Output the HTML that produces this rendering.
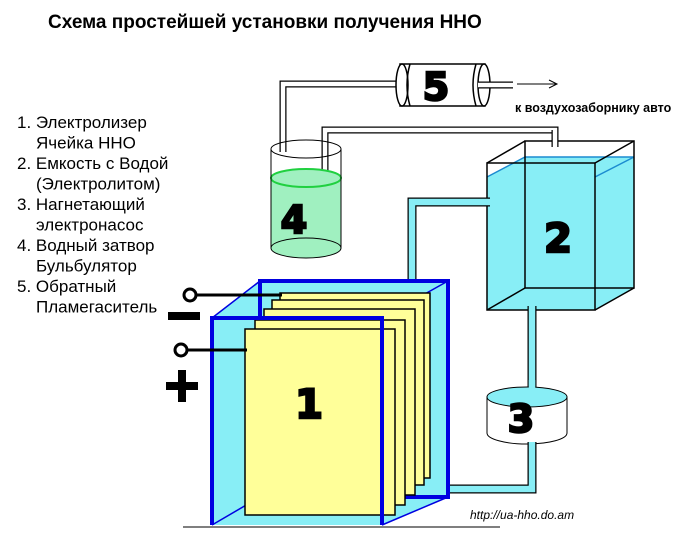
<!DOCTYPE html>
<html><head><meta charset="utf-8"><style>
html,body{margin:0;padding:0;background:#fff;}
svg{display:block;}
.n{font-family:"DejaVu Sans","Liberation Sans",sans-serif;font-weight:bold;stroke:#000;stroke-width:2.5;}
</style></head><body>
<svg width="699" height="549" viewBox="0 0 699 549" xmlns="http://www.w3.org/2000/svg">
<rect width="699" height="549" fill="#fff"/>
<text x="48" y="28" font-family="Liberation Sans, sans-serif" font-weight="bold" font-size="19" fill="#000">Схема простейшей установки получения ННО</text>
<g font-family="Liberation Sans, sans-serif" font-size="17" fill="#000">
<text x="17" y="128">1. Электролизер</text>
<text x="36" y="148.5">Ячейка ННО</text>
<text x="17" y="169">2. Емкость с Водой</text>
<text x="36" y="189.5">(Электролитом)</text>
<text x="17" y="210">3. Нагнетающий</text>
<text x="36" y="230.5">электронасос</text>
<text x="17" y="251">4. Водный затвор</text>
<text x="36" y="271.5">Бульбулятор</text>
<text x="17" y="292">5. Обратный</text>
<text x="36" y="312.5">Пламегаситель</text>
</g>

<path d="M283 152 V84 H400" fill="none" stroke="#000" stroke-width="7"/>
<path d="M283 152 V84 H400" fill="none" stroke="#fff" stroke-width="4.5"/>
<path d="M325 247 V130 H555 V147" fill="none" stroke="#000" stroke-width="7"/>
<path d="M325 247 V130 H555 V147" fill="none" stroke="#fff" stroke-width="4.5"/>

<rect x="400" y="64" width="85" height="42" fill="#fff" stroke="#000" stroke-width="1.5"/>
<ellipse cx="402" cy="85" rx="6" ry="21" fill="#fff" stroke="#000" stroke-width="1.5"/>
<ellipse cx="484" cy="85" rx="6" ry="21" fill="#fff" stroke="#000" stroke-width="1.5"/>
<path d="M410 64 Q404 85 410 106 M476 64 Q470 85 476 106" fill="none" stroke="#000" stroke-width="1.5"/>
<path d="M478 85 H513" stroke="#000" stroke-width="7"/>
<path d="M478 85 H513" stroke="#fff" stroke-width="4.5"/>
<path d="M517 84 H557 M549 80 L557 84 L549 88" fill="none" stroke="#000" stroke-width="1"/>
<text class="n" x="436" y="100" font-size="38" text-anchor="middle">5</text>
<text x="515" y="112" font-family="Liberation Sans, sans-serif" font-weight="bold" font-size="12.5">к воздухозаборнику авто</text>

<path d="M271 178 V248 A35 10 0 0 0 341 248 V178 Z" fill="#a0f0c0"/>
<ellipse cx="306" cy="178" rx="35" ry="9" fill="#a0f0c0" stroke="#20d040" stroke-width="2"/>
<ellipse cx="306" cy="248" rx="35" ry="10" fill="#a0f0c0" stroke="#000" stroke-width="1"/>
<path d="M271 149 V248 M341 149 V248" stroke="#000" stroke-width="1"/>
<ellipse cx="306" cy="149" rx="35" ry="9" fill="none" stroke="#000" stroke-width="1"/>
<text class="n" x="294" y="233" font-size="38" text-anchor="middle">4</text>

<rect x="487" y="177" width="108" height="133" fill="#88eef6"/>
<polygon points="487,177 525,157 634,157 634,288 595,310 487,310" fill="#88eef6"/>
<path d="M487 177 L525 157 H634 L595 177" fill="none" stroke="#1b8bd0" stroke-width="1.5"/>
<g fill="none" stroke="#000" stroke-width="1.5">
<rect x="487" y="163" width="108" height="147"/>
<rect x="525" y="141" width="109" height="147"/>
<path d="M487 163 L525 141 M595 163 L634 141 M487 310 L525 288 M595 310 L634 288"/>
</g>
<path d="M555 130 V147" stroke="#000" stroke-width="7"/>
<path d="M555 130 V148" stroke="#fff" stroke-width="4.5"/>
<text class="n" x="558" y="252" font-size="40" text-anchor="middle">2</text>

<path d="M490 202 H412 V288" fill="none" stroke="#000" stroke-width="9"/>
<path d="M490 202 H412 V288" fill="none" stroke="#88eef6" stroke-width="6.5"/>
<path d="M532 306 V400" stroke="#000" stroke-width="9"/>
<path d="M532 305 V400" stroke="#88eef6" stroke-width="6.5"/>

<path d="M487 397 V433 A40 11 0 0 0 567 433 V397 Z" fill="#fff" stroke="#000" stroke-width="1"/>
<ellipse cx="527" cy="397" rx="40" ry="10" fill="#88eef6" stroke="#000" stroke-width="1"/>
<path d="M532 380 V400" stroke="#88eef6" stroke-width="6.5"/>
<text class="n" x="521" y="432" font-size="38" text-anchor="middle">3</text>
<path d="M532 442 V489 H443" fill="none" stroke="#000" stroke-width="9"/>
<path d="M532 442 V489 H443" fill="none" stroke="#88eef6" stroke-width="6.5"/>

<polygon points="212,318 260,281 448,281 448,497 382,525 212,525" fill="#88eef6"/>
<g fill="none" stroke="#0000e0">
<rect x="260" y="281" width="188" height="216" stroke-width="4"/>
<path d="M212 318 L260 281 M382 318 L448 281 M382 525 L448 497 M212 525 L260 497" stroke-width="1.5"/>
</g>
<g fill="#ffff99" stroke="#000" stroke-width="1.5">
<rect x="280" y="293" width="150" height="185"/>
<rect x="272" y="300" width="152" height="185"/>
<rect x="264" y="309" width="151" height="186"/>
<rect x="255" y="320" width="150" height="185"/>
<rect x="245" y="329" width="150" height="186"/>
</g>
<g fill="none" stroke="#0000e0" stroke-width="4">
<path d="M212 525 V318 H382 V525"/>
</g>
<text class="n" x="309" y="418" font-size="40" text-anchor="middle">1</text>
<path d="M183 527 H500" stroke="#555" stroke-width="1.5"/>

<path d="M196 295 H282" stroke="#000" stroke-width="3"/>
<circle cx="190" cy="295" r="6" fill="#fff" stroke="#000" stroke-width="3"/>
<rect x="168" y="312" width="32" height="8" fill="#000"/>
<path d="M187 350 H247" stroke="#000" stroke-width="3"/>
<circle cx="181" cy="350" r="6" fill="#fff" stroke="#000" stroke-width="3"/>
<rect x="166" y="382" width="32" height="8" fill="#000"/>
<rect x="178" y="370" width="8" height="32" fill="#000"/>

<text x="470" y="519" font-family="Liberation Sans, sans-serif" font-style="italic" font-size="12">http://ua-hho.do.am</text>
</svg>
</body></html>
